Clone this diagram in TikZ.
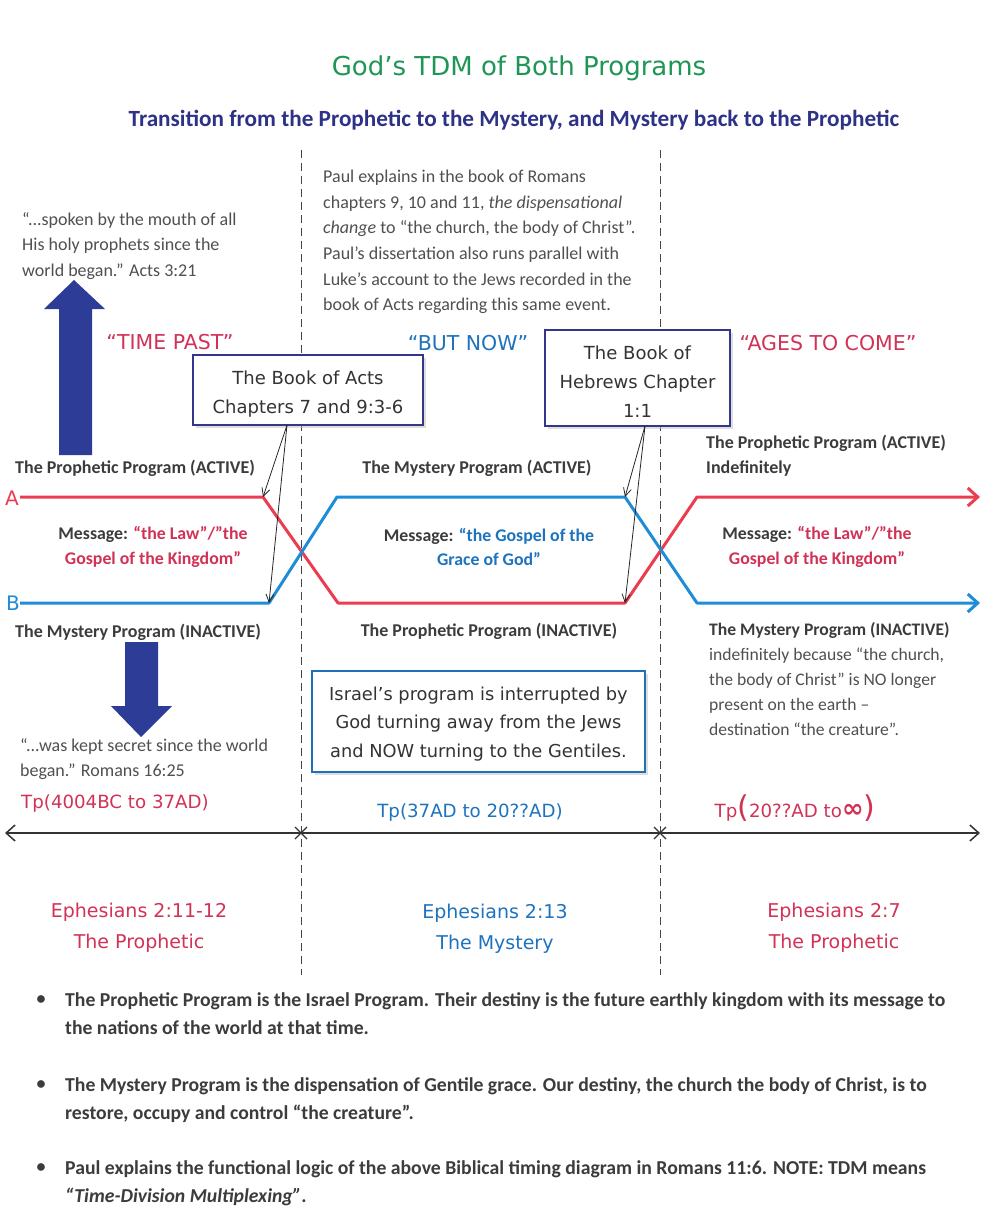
\documentclass[tikz,border=0pt]{standalone}
\usepackage{fontspec}
\setmainfont{Carlito}
\newfontfamily\comic{DejaVu Sans}
\usetikzlibrary{arrows.meta,shadows}
\definecolor{tgreen}{RGB}{30,150,85}
\definecolor{navy}{RGB}{45,50,135}
\definecolor{sigred}{RGB}{235,60,80}
\definecolor{sigblue}{RGB}{30,140,215}
\definecolor{txtred}{RGB}{210,50,85}
\definecolor{txtblue}{RGB}{30,115,190}
\definecolor{txtgray}{RGB}{60,60,60}
\definecolor{qgray}{RGB}{80,80,80}
\definecolor{boxnavy}{RGB}{50,55,140}
\definecolor{boxblue}{RGB}{35,110,185}
\definecolor{arrowblue}{RGB}{45,60,150}
\definecolor{dashgray}{RGB}{70,70,70}
\tikzset{
  lbl/.style={inner sep=0pt, text=txtgray, font=\bfseries\fontsize{18}{25}\selectfont},
  quote/.style={inner sep=0pt, text=qgray, align=left, font=\fontsize{18}{25.6}\selectfont},
  msg/.style={inner sep=0pt, text=txtgray, align=center, font=\bfseries\fontsize{17.8}{24.5}\selectfont},
  era/.style={inner sep=0pt, font=\comic\fontsize{20.5}{20}\selectfont},
  eph/.style={inner sep=0pt, align=center, font=\comic\fontsize{19}{31}\selectfont},
  tpl/.style={inner sep=0pt, font=\comic\fontsize{18.2}{18}\selectfont},
  refbox/.style={draw=boxnavy, line width=2.5pt, fill=white, align=center,
     font=\comic\fontsize{18}{29}\selectfont, text=black!80,
     drop shadow={shadow xshift=3pt, shadow yshift=-3pt, fill=black!25}},
  sigline/.style={line width=3pt, line join=round},
  callout/.style={black!85, line width=0.8pt, -{Straight Barb[length=8pt,width=8pt]}},
  divider/.style={dashgray, line width=1pt, dash pattern=on 8pt off 5pt},
  bullettxt/.style={inner sep=0pt, text=txtgray, align=left, anchor=north west,
     font=\bfseries\fontsize{19.7}{28}\selectfont},
  blockarrow/.style={fill=arrowblue, draw=none},
}
\begin{document}
\begin{tikzpicture}[x=1pt,y=-1pt]
\useasboundingbox[fill=white] (0,0) rectangle (984,1219);

% titles
\node[inner sep=0pt, text=tgreen, font=\comic\fontsize{26}{26}\selectfont] (title) at (519,68) {God’s TDM of Both Programs};
\node[inner sep=0pt, text=navy, font=\bfseries\fontsize{23.2}{24}\selectfont] (subtitle) at (514,120) {Transition from the Prophetic to the Mystery, and Mystery back to the Prophetic};

% dividers
\coordinate (d1t) at (301,150); \coordinate (d1b) at (301,975);
\coordinate (d2t) at (660,150); \coordinate (d2b) at (660,975);
\draw[divider] (d1t) -- (d1b);
\draw[divider] (d2t) -- (d2b);

% top texts
\node[quote, anchor=north west] (q1) at (22,212) {“...spoken by the mouth of all\\His holy prophets since the\\world began.” Acts 3:21};
\node[quote, anchor=north west] (para) at (323,170) {Paul explains in the book of Romans\\chapters 9, 10 and 11, \textit{the dispensational}\\\textit{change} to “the church, the body of Christ”.\\Paul’s dissertation also runs parallel with\\Luke’s account to the Jews recorded in the\\book of Acts regarding this same event.};

% block arrows
\fill[blockarrow] (59,455) -- (59,309) -- (44,309) -- (74,280) -- (105,309) -- (92,309) -- (92,455) -- cycle;
\fill[blockarrow] (125,642) -- (158,642) -- (158,706) -- (172,706) -- (141,737) -- (111,706) -- (125,706) -- cycle;

% era labels
\node[era, text=txtred] (tp) at (170,342) {“TIME PAST”};
\node[era, text=txtblue] (bn) at (468,343) {“BUT NOW”};
\node[era, text=txtred] (atc) at (828,343) {“AGES TO COME”};

% reference boxes
\node[refbox, minimum width=230pt, minimum height=70pt] (acts) at (308,390) {\rule{0pt}{21pt}The Book of Acts\\Chapters 7 and 9:3-6};
\node[refbox, minimum width=185pt, minimum height=96pt] (heb) at (637.5,378) {\rule{0pt}{21pt}The Book of\\Hebrews Chapter\\1:1};

% program labels
\node[lbl, anchor=west] (ppa) at (15,468) {The Prophetic Program (ACTIVE)};
\node[lbl] (mpa) at (477,468) {The Mystery Program (ACTIVE)};
\node[lbl, anchor=north west, align=left] (ppai) at (706,435) {The Prophetic Program (ACTIVE)\\Indefinitely};

% signals
\coordinate (a0) at (20,497); \coordinate (a1) at (263,497); \coordinate (a2) at (338,603);
\coordinate (a3) at (625,603); \coordinate (a4) at (697,497); \coordinate (a5) at (980,497);
\coordinate (b0) at (20,603); \coordinate (b1) at (269,603); \coordinate (b2) at (337,497);
\coordinate (b3) at (625,497); \coordinate (b4) at (697,603); \coordinate (b5) at (980,603);
\draw[sigline, sigred, -{Straight Barb[length=10pt,width=18pt]}] (a0) -- (a1) -- (a2) -- (a3) -- (a4) -- (a5);
\draw[sigline, sigblue, -{Straight Barb[length=10pt,width=18pt]}] (b0) -- (b1) -- (b2) -- (b3) -- (b4) -- (b5);
\node[inner sep=0pt, text=sigred, font=\comic\fontsize{20}{20}\selectfont] (lA) at (12,498) {A};
\node[inner sep=0pt, text=sigblue, font=\comic\fontsize{20}{20}\selectfont] (lB) at (13,603) {B};

% callouts
\coordinate (actsout) at (287,425);
\coordinate (hebout) at (645,426);
\draw[callout] (actsout) -- (a1);
\draw[callout] (actsout) -- (b1);
\draw[callout] (hebout) -- (b3);
\draw[callout] (hebout) -- (a3);

% messages
\node[msg] (m1) at (153,547) {Message: \textcolor{txtred}{“the Law”/”the}\\\textcolor{txtred}{Gospel of the Kingdom”}};
\node[msg] (m2) at (489,547) {Message: \textcolor{txtblue}{“the Gospel of the}\\\textcolor{txtblue}{Grace of God”}};
\node[msg] (m3) at (817,547) {Message: \textcolor{txtred}{“the Law”/”the}\\\textcolor{txtred}{Gospel of the Kingdom”}};

% inactive labels
\node[lbl, anchor=west] (mpi) at (15,632) {The Mystery Program (INACTIVE)};
\node[lbl] (ppi) at (489,631) {The Prophetic Program (INACTIVE)};
\node[quote, anchor=north west, font=\fontsize{17.6}{25}\selectfont] (mpii) at (709,622) {\textbf{\textcolor{txtgray}{The Mystery Program (INACTIVE)}}\\indefinitely because “the church,\\the body of Christ” is NO longer\\present on the earth –\\destination “the creature”.};
\node[quote, anchor=north west] (q2) at (20,738) {“...was kept secret since the world\\began.” Romans 16:25};

% Israel box
\node[refbox, draw=boxblue, minimum width=333pt, minimum height=101pt, font=\comic\fontsize{17.8}{28.5}\selectfont] (isr) at (478.5,721.5) {\rule{0pt}{18pt}Israel’s program is interrupted by\\God turning away from the Jews\\and NOW turning to the Gentiles.};

% time periods
\node[tpl, text=txtred] (tp1) at (115,803) {Tp(4004BC to 37AD)};
\node[tpl, text=txtblue] (tp2) at (470,812) {Tp(37AD to 20??AD)};
\node[tpl, text=txtred] (tp3) at (795,808) {Tp{\fontsize{30}{30}\selectfont(}20??AD to{\fontsize{26}{26}\selectfont\bfseries ∞}{\fontsize{30}{30}\selectfont)}};

% timeline
\coordinate (tl0) at (5,833); \coordinate (tl1) at (980,833);
\coordinate (x1) at (301,833); \coordinate (x2) at (660,833);
\draw[black!80, line width=1.5pt, {Straight Barb[length=9pt,width=16pt]}-{Straight Barb[length=9pt,width=16pt]}] (tl0) -- (tl1);
\foreach \c in {x1,x2}{
  \draw[black!80, line width=1.2pt] ([shift={(-6,-6)}]\c) -- ([shift={(6,6)}]\c);
  \draw[black!80, line width=1.2pt] ([shift={(-6,6)}]\c) -- ([shift={(6,-6)}]\c);
}

% ephesians
\node[eph, text=txtred] (e1) at (139,928) {Ephesians 2:11-12\\The Prophetic};
\node[eph, text=txtblue] (e2) at (495,929) {Ephesians 2:13\\The Mystery};
\node[eph, text=txtred] (e3) at (834,928) {Ephesians 2:7\\The Prophetic};

% bullets
\foreach \y/\n in {1000/1,1085/2,1168/3}{
  \node[inner sep=0pt, text=txtgray, font=\bfseries\fontsize{18}{18}\selectfont] (dot\n) at (41,\y) {•};
}
\node[bullettxt] (b1t) at (65,992) {The Prophetic Program is the Israel Program. Their destiny is the future earthly kingdom with its message to\\the nations of the world at that time.};
\node[bullettxt] (b2t) at (65,1077) {The Mystery Program is the dispensation of Gentile grace. Our destiny, the church the body of Christ, is to\\restore, occupy and control “the creature”.};
\node[bullettxt] (b3t) at (65,1160) {Paul explains the functional logic of the above Biblical timing diagram in Romans 11:6. NOTE: TDM means\\\textit{“Time-Division Multiplexing”}.};
\end{tikzpicture}
\end{document}
